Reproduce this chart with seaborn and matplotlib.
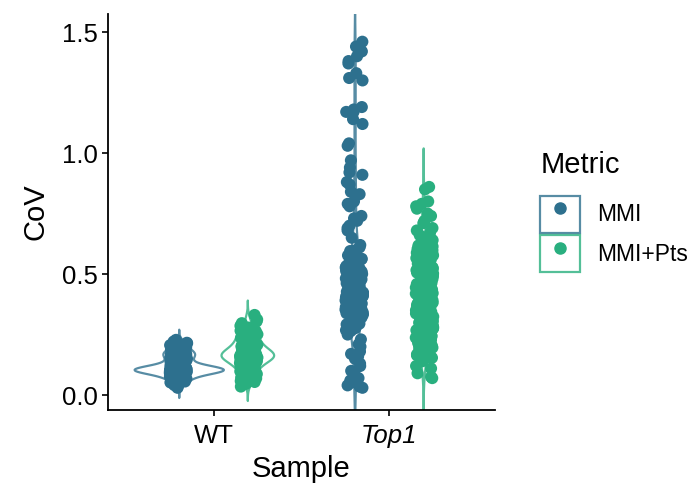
import numpy as np
import pandas as pd
import matplotlib
matplotlib.use("Agg")
import matplotlib.pyplot as plt
import seaborn as sns
from matplotlib.patches import Patch
from matplotlib.lines import Line2D
from matplotlib.legend_handler import HandlerTuple

# ---------------- data ----------------
samples = ["WT", "Top1"]
metrics = ["MMI", "MMI+Pts"]
point_colors = ["#2D708E", "#29AF7F"]

wt_mmi = [
    0.030, 0.036, 0.041, 0.047, 0.052, 0.056, 0.059, 0.062, 0.064, 0.068, 0.071, 0.073, 0.076, 0.079,
    0.081, 0.083, 0.085, 0.087, 0.088, 0.090, 0.091, 0.092, 0.093, 0.094, 0.095, 0.096, 0.097, 0.098,
    0.099, 0.100, 0.100, 0.101, 0.102, 0.102, 0.103, 0.104, 0.104, 0.105, 0.105, 0.106, 0.106, 0.107,
    0.108, 0.108, 0.109, 0.110, 0.110, 0.111, 0.112, 0.113, 0.114, 0.115, 0.117, 0.118, 0.121, 0.123,
    0.125, 0.128, 0.131, 0.134, 0.137, 0.141, 0.145, 0.149, 0.153, 0.157, 0.160, 0.163, 0.166, 0.168,
    0.170, 0.172, 0.175, 0.178, 0.181, 0.186, 0.190, 0.196, 0.201, 0.206, 0.211, 0.216, 0.221, 0.228,
    0.055, 0.063, 0.069, 0.074, 0.078, 0.082, 0.085, 0.087, 0.089, 0.091, 0.093, 0.095, 0.096, 0.097,
    0.098, 0.099, 0.100, 0.101, 0.101, 0.102, 0.103, 0.103, 0.104, 0.105, 0.106, 0.107, 0.107, 0.108,
    0.109, 0.109, 0.110, 0.111, 0.112, 0.113, 0.115, 0.116, 0.119, 0.122, 0.126, 0.129, 0.133, 0.138,
    0.143, 0.147, 0.151, 0.155, 0.159, 0.162, 0.165, 0.167, 0.169, 0.171, 0.174, 0.177, 0.180, 0.184,
    0.188, 0.193, 0.199, 0.207, 0.214,
]
wt_pts = [
    0.035, 0.046, 0.054, 0.066, 0.072, 0.081, 0.087, 0.094, 0.101, 0.104, 0.111, 0.114, 0.119, 0.122,
    0.127, 0.130, 0.134, 0.136, 0.139, 0.143, 0.145, 0.148, 0.149, 0.152, 0.153, 0.155, 0.157, 0.158,
    0.160, 0.162, 0.163, 0.165, 0.167, 0.168, 0.170, 0.172, 0.174, 0.176, 0.179, 0.181, 0.183, 0.186,
    0.188, 0.191, 0.195, 0.198, 0.201, 0.204, 0.208, 0.212, 0.217, 0.221, 0.226, 0.231, 0.236, 0.241,
    0.246, 0.251, 0.256, 0.262, 0.266, 0.271, 0.279, 0.286, 0.297, 0.304, 0.312, 0.331,
    0.058, 0.069, 0.077, 0.084, 0.091, 0.098, 0.107, 0.113, 0.117, 0.121, 0.125, 0.129, 0.132, 0.135,
    0.138, 0.141, 0.144, 0.146, 0.149, 0.151, 0.153, 0.155, 0.156, 0.158, 0.159, 0.161, 0.163, 0.164,
    0.166, 0.167, 0.169, 0.171, 0.173, 0.175, 0.177, 0.180, 0.182, 0.184, 0.187, 0.190, 0.193, 0.196,
    0.199, 0.203, 0.207, 0.211, 0.214, 0.219, 0.223, 0.228, 0.233, 0.238, 0.243, 0.248, 0.254, 0.259,
    0.264, 0.269, 0.274,
]
top1_mmi = [
    1.46, 1.44, 1.42, 1.40, 1.38, 1.37, 1.33, 1.31, 1.30, 1.19, 1.18, 1.17, 1.17, 1.14, 1.12,
    1.04, 1.03, 0.97, 0.94, 0.92, 0.91, 0.88, 0.87, 0.84, 0.83, 0.80, 0.79, 0.78, 0.74, 0.73,
    0.72, 0.70, 0.69, 0.68, 0.65, 0.62, 0.61,
    0.597, 0.588, 0.581, 0.574, 0.566, 0.561, 0.553, 0.547, 0.542, 0.536, 0.529, 0.524, 0.517,
    0.513, 0.508, 0.503, 0.497, 0.494, 0.489, 0.484, 0.481, 0.476, 0.471, 0.468, 0.464, 0.459,
    0.456, 0.452, 0.447, 0.445, 0.441, 0.437, 0.434, 0.431, 0.427, 0.424, 0.421, 0.418, 0.414,
    0.411, 0.409, 0.405, 0.402, 0.399, 0.396, 0.393, 0.391, 0.388, 0.385, 0.382, 0.379, 0.377,
    0.374, 0.371, 0.368, 0.365, 0.362, 0.359, 0.356, 0.353, 0.349, 0.346, 0.342, 0.338, 0.335,
    0.331, 0.327, 0.323, 0.318, 0.314, 0.309, 0.304, 0.298, 0.292, 0.286, 0.279, 0.272, 0.265,
    0.595, 0.584, 0.577, 0.569, 0.563, 0.556, 0.550, 0.544, 0.539, 0.533, 0.527, 0.521, 0.515,
    0.510, 0.506, 0.500, 0.495, 0.491, 0.486, 0.482, 0.478, 0.473, 0.469, 0.466, 0.462, 0.457,
    0.454, 0.450, 0.446, 0.443, 0.439, 0.435, 0.432, 0.429, 0.426, 0.422, 0.419, 0.416, 0.413,
    0.410, 0.407, 0.404, 0.400, 0.397, 0.395, 0.392, 0.389, 0.386, 0.384, 0.381, 0.378, 0.375,
    0.373, 0.370, 0.367, 0.364, 0.361, 0.358, 0.355, 0.351, 0.348, 0.344, 0.340, 0.336, 0.333,
    0.329, 0.325, 0.321, 0.316, 0.311, 0.306, 0.301, 0.295, 0.289, 0.283, 0.276, 0.268,
    0.25, 0.23, 0.21, 0.20, 0.18, 0.17, 0.16, 0.15, 0.13, 0.12, 0.10, 0.09, 0.07, 0.06, 0.05,
    0.04, 0.035, 0.03,
]
top1_pts = [
    0.86, 0.85, 0.80, 0.79, 0.78, 0.77, 0.75, 0.74, 0.72, 0.71, 0.69, 0.68, 0.67, 0.66, 0.65,
    0.64, 0.63,
    0.622, 0.614, 0.609, 0.601, 0.596, 0.588, 0.582, 0.577, 0.571, 0.566, 0.559, 0.553, 0.548,
    0.543, 0.537, 0.532, 0.527, 0.521, 0.516, 0.511, 0.506, 0.502, 0.497, 0.493, 0.488, 0.483,
    0.479, 0.474, 0.469, 0.466, 0.461, 0.457, 0.452, 0.448, 0.444, 0.439, 0.435, 0.431, 0.427,
    0.423, 0.419, 0.414, 0.410, 0.406, 0.402, 0.398, 0.394, 0.390, 0.386, 0.382, 0.377, 0.373,
    0.369, 0.365, 0.361, 0.357, 0.352, 0.348, 0.344, 0.339, 0.335, 0.331, 0.326, 0.322, 0.317,
    0.313, 0.308, 0.303, 0.299, 0.294, 0.289, 0.284, 0.279, 0.274, 0.268, 0.263, 0.257, 0.251,
    0.246, 0.240, 0.234, 0.228, 0.222, 0.216, 0.209, 0.203, 0.196, 0.189, 0.182, 0.175, 0.168,
    0.161, 0.154,
    0.618, 0.611, 0.604, 0.598, 0.591, 0.585, 0.579, 0.573, 0.568, 0.562, 0.556, 0.550, 0.545,
    0.540, 0.534, 0.529, 0.524, 0.519, 0.513, 0.509, 0.504, 0.499, 0.495, 0.490, 0.486, 0.481,
    0.476, 0.472, 0.467, 0.463, 0.459, 0.455, 0.450, 0.446, 0.441, 0.437, 0.433, 0.429, 0.425,
    0.421, 0.416, 0.412, 0.408, 0.404, 0.400, 0.396, 0.392, 0.388, 0.384, 0.379, 0.375, 0.371,
    0.367, 0.363, 0.359, 0.354, 0.350, 0.346, 0.341, 0.337, 0.333, 0.328, 0.324, 0.319, 0.315,
    0.310, 0.306, 0.301, 0.296, 0.291, 0.286, 0.281, 0.276, 0.271, 0.265, 0.260, 0.254, 0.248,
    0.243, 0.237, 0.231, 0.225, 0.219, 0.212, 0.206, 0.199, 0.192, 0.185, 0.178, 0.171, 0.164,
    0.157,
    0.14, 0.12, 0.11, 0.09, 0.075, 0.07,
]
y_ticks = [0.0, 0.5, 1.0, 1.5]
y_tick_labels = ["0.0", "0.5", "1.0", "1.5"]

groups = {("WT", "MMI"): wt_mmi, ("WT", "MMI+Pts"): wt_pts,
          ("Top1", "MMI"): top1_mmi, ("Top1", "MMI+Pts"): top1_pts}
rows = []
for (s, m), vals in groups.items():
    for v in vals:
        rows.append({"Sample": s, "Metric": m, "CoV": v})
df = pd.DataFrame(rows)

# ---------------- plotting ----------------
sns.set_theme(style="ticks")
plt.rcParams["font.family"] = ["Liberation Sans", "DejaVu Sans"]
plt.rcParams["text.color"] = "black"
plt.rcParams["axes.labelcolor"] = "black"

fig = plt.figure(figsize=(6.97, 4.87), dpi=100)
ax = fig.add_axes([0.155, 0.158, 0.555, 0.813])

pal = dict(zip(metrics, point_colors))
sns.violinplot(data=df, x="Sample", y="CoV", hue="Metric", order=samples,
               hue_order=metrics, palette=pal, fill=False, inner=None, cut=3,
               bw_method=0.33, density_norm="area", common_norm=True,
               width=0.78, linewidth=1.6, legend=False, ax=ax)
# widen violins about their centres and soften outline colour
for coll in list(ax.collections):
    for path in coll.get_paths():
        v = path.vertices
        c = (v[:, 0].min() + v[:, 0].max()) / 2
        v[:, 0] = c + (v[:, 0] - c) * 1.3
    coll.set_alpha(0.8)

sns.stripplot(data=df, x="Sample", y="CoV", hue="Metric", order=samples,
              hue_order=metrics, palette=pal, dodge=True, jitter=0.1, size=8.7,
              linewidth=0, legend=False, ax=ax, zorder=3)

ax.set_xlim(-0.6, 1.6)
ax.set_ylim(-0.062, 1.574)
ax.set_yticks(y_ticks)
ax.set_yticklabels(y_tick_labels)
for lab in ax.get_xticklabels():
    if lab.get_text() == "Top1":
        lab.set_fontstyle("italic")

ax.tick_params(axis="both", labelsize=18.5, length=4, width=1.2, color="black",
               labelcolor="black")
ax.tick_params(axis="x", pad=6)
ax.tick_params(axis="y", pad=3)
ax.set_xlabel("Sample", fontsize=21, labelpad=5, color="black")
ax.set_ylabel("CoV", fontsize=21, labelpad=9, color="black")
for side in ["top", "right"]:
    ax.spines[side].set_visible(False)
for side in ["left", "bottom"]:
    ax.spines[side].set_linewidth(1.3)
    ax.spines[side].set_color("black")

# legend
vcols = [matplotlib.colors.to_rgba(c, 0.8) for c in point_colors]
handles = []
for pc, vc in zip(point_colors, vcols):
    box = Patch(facecolor="white", edgecolor=vc, linewidth=1.6)
    dot = Line2D([], [], marker="o", color=pc, linestyle="", markersize=8)
    handles.append((box, dot))
leg = fig.legend(handles, metrics, handler_map={tuple: HandlerTuple(ndivide=1, pad=0)},
                 loc="upper left", bbox_to_anchor=(0.775, 0.69), frameon=False,
                 title="Metric", fontsize=16.5, title_fontsize=21,
                 handlelength=1.75, handleheight=2.1, labelspacing=0.12,
                 handletextpad=0.72, borderpad=0, borderaxespad=0, alignment="left",
                 labelcolor="black")
leg.get_title().set_color("black")
leg._legend_box.sep = 12

fig.savefig("out.png", dpi=100)
